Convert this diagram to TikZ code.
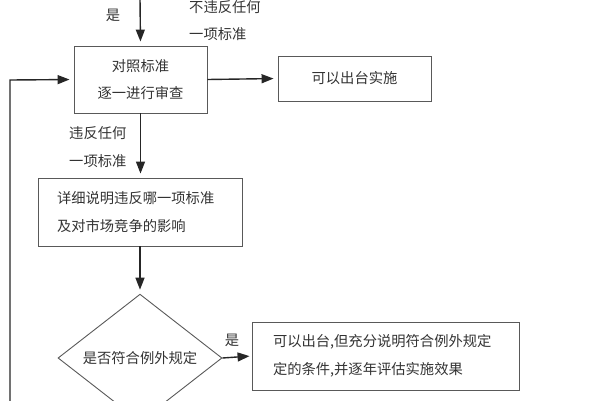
\documentclass[tikz,border=0pt]{standalone}
\usepackage{fontspec}
\setmainfont{Noto Sans CJK SC}
\usetikzlibrary{shapes.geometric,arrows.meta}
\begin{document}
\begin{tikzpicture}[x=1pt,y=-1pt,
  font=\fontsize{14.3}{27.5}\selectfont,
  every node/.style={text=black!80},
  boxstyle/.style={draw=black!65, line width=0.9pt, rectangle},
  arr/.style={draw=black!85, line width=1.4pt, -{Triangle[length=12pt,width=9pt]}, shorten >=4pt},
  lbl/.style={align=left, inner sep=0pt}]
\useasboundingbox (0,0) rectangle (600,400);
\node[boxstyle, minimum width=133pt, minimum height=67pt, align=center] (b1) at (140.5,79.5) {对照标准\\逐一进行审查};
\node[boxstyle, minimum width=153pt, minimum height=45pt] (b2) at (354.5,78.5) {可以出台实施};
\node[boxstyle, text width=166pt, inner xsep=19pt, minimum height=68pt, align=left] (b3) at (140,212) {详细说明违反哪一项标准\\及对市场竞争的影响};
\node[boxstyle, diamond, minimum width=164pt, minimum height=102pt, inner sep=0pt] (d) at (140,358) {是否符合例外规定};
\node[boxstyle, text width=225pt, inner xsep=21pt, minimum height=68pt, align=left] (b4) at (385.5,356) {可以出台,但充分说明符合例外规定\\定的条件,并逐年评估实施效果};
\coordinate (top) at (140,-2);
\coordinate (lb) at (10,402);
\coordinate (lt) at (10,80);
\draw[arr] (top) -- (b1.north);
\draw[arr] (b1.east) -- (b2.west);
\draw[arr] (b1.south) -- (b3.north -| b1.south);
\draw[arr] (b3.south -| d.north) -- (d.north);
\draw[arr, shorten >=2pt] (d.east) -- (b4.west);
\draw[arr] (lb) -- (lt) -- (b1.west);
\node[lbl] (ly) at (113,15) {是};
\node[lbl, anchor=west] (lt1) at (189,7) {不违反任何};
\node[lbl, anchor=west] (lt2) at (189,34) {一项标准};
\node[lbl, anchor=west] (lv1) at (69,133) {违反任何};
\node[lbl, anchor=west] (lv2) at (69,161) {一项标准};
\node[lbl] (ly2) at (232,340) {是};
\end{tikzpicture}
\end{document}
